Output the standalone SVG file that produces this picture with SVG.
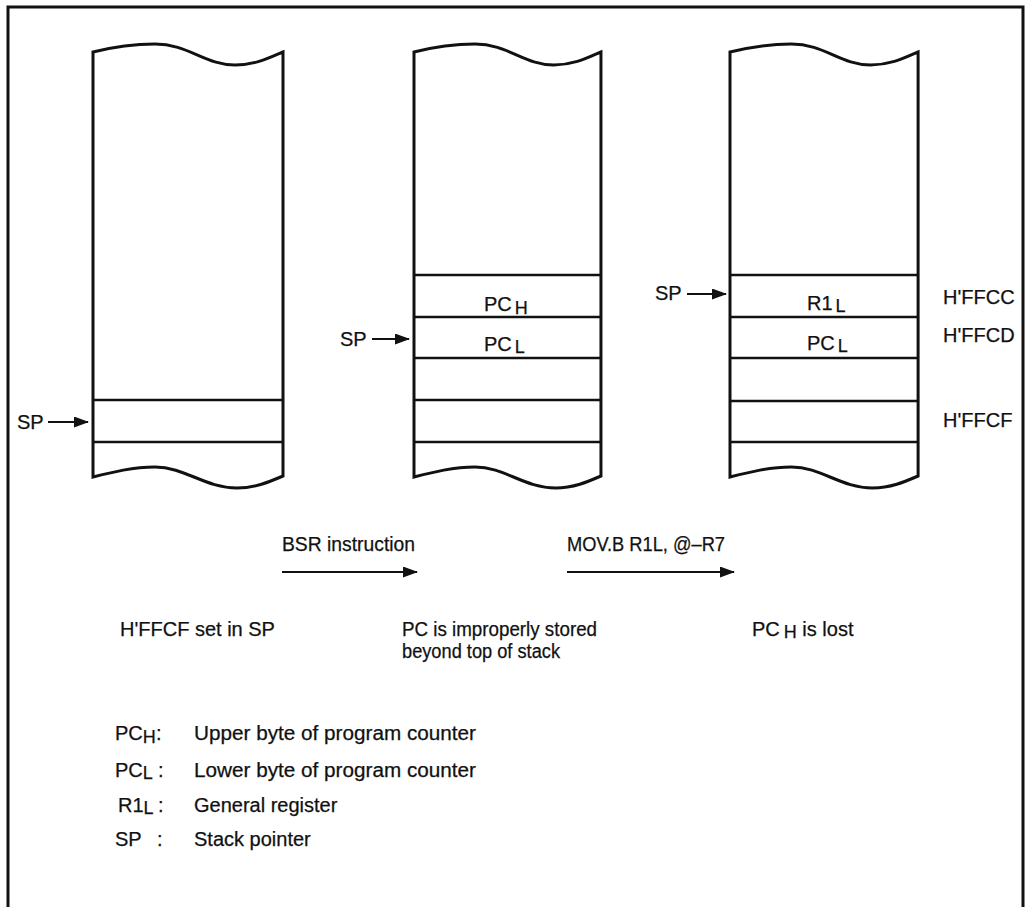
<svg xmlns="http://www.w3.org/2000/svg" width="1030" height="907" viewBox="0 0 1030 907">
<style>
  text { font-family: "Liberation Sans", Arial, sans-serif; font-size: 20px; fill: #111; stroke: #111; stroke-width: 0.25; }
  .sub { font-size: 18px; }
  .col { fill: #fff; stroke: #111; stroke-width: 3; stroke-linejoin: miter; }
  .row { stroke: #111; stroke-width: 2.4; fill: none; }
  .arr { stroke: #111; stroke-width: 2; fill: none; }
  .frame { fill: #fff; stroke: #111; stroke-width: 3; }
</style>
<defs>
  <marker id="ah" markerWidth="15" markerHeight="11" refX="14" refY="5.5" orient="auto" markerUnits="userSpaceOnUse">
    <path d="M0,0 L15,5.5 L0,11 Z" fill="#111"/>
  </marker>
  <path id="colshape" d="M0,52 C20,47 40,44 62,44 C95,44 112,65 142,65 C162,65 176,58 190,52 L190,476 C176,482 162,488 144,488 C112,488 92,467 62,467 C40,467 20,472 0,477 Z"/>
</defs>
<rect class="frame" x="8" y="7" width="1015" height="910"/>

<g id="stack1">
  <use href="#colshape" class="col" transform="translate(93,0)"/>
  <line class="row" x1="93" y1="400" x2="283" y2="400"/>
  <line class="row" x1="93" y1="442" x2="283" y2="442"/>
</g>

<g id="stack2">
  <path class="col" transform="translate(414,0) scale(0.984,1)" vector-effect="non-scaling-stroke" d="M0,52 C20,47 40,44 62,44 C95,44 112,65 142,65 C162,65 176,58 190,52 L190,476 C176,482 162,488 144,488 C112,488 92,467 62,467 C40,467 20,472 0,477 Z"/>
  <line class="row" x1="414" y1="275" x2="601" y2="275"/>
  <line class="row" x1="414" y1="317" x2="601" y2="317"/>
  <line class="row" x1="414" y1="358" x2="601" y2="358"/>
  <line class="row" x1="414" y1="400" x2="601" y2="400"/>
  <line class="row" x1="414" y1="442" x2="601" y2="442"/>
  <text x="484" y="311">PC<tspan class="sub" dx="3" dy="3">H</tspan></text>
  <text x="484" y="351">PC<tspan class="sub" dx="3" dy="2">L</tspan></text>
</g>

<g id="stack3">
  <path class="col" transform="translate(730,0) scale(0.99,1)" vector-effect="non-scaling-stroke" d="M0,52 C20,47 40,44 62,44 C95,44 112,65 142,65 C162,65 176,58 190,52 L190,476 C176,482 162,488 144,488 C112,488 92,467 62,467 C40,467 20,472 0,477 Z"/>
  <line class="row" x1="730" y1="275" x2="918" y2="275"/>
  <line class="row" x1="730" y1="317" x2="918" y2="317"/>
  <line class="row" x1="730" y1="358" x2="918" y2="358"/>
  <line class="row" x1="730" y1="401" x2="918" y2="401"/>
  <line class="row" x1="730" y1="442" x2="918" y2="442"/>
  <text x="807" y="310">R1<tspan class="sub" dx="3" dy="2">L</tspan></text>
  <text x="807" y="350">PC<tspan class="sub" dx="3" dy="2">L</tspan></text>
</g>

<g id="addresses">
  <text x="943" y="304">H'FFCC</text>
  <text x="943" y="342">H'FFCD</text>
  <text x="943" y="427">H'FFCF</text>
</g>

<g id="connectors">
  <line class="arr" x1="48" y1="422" x2="88" y2="422" marker-end="url(#ah)"/>
  <line class="arr" x1="372" y1="339" x2="409" y2="339" marker-end="url(#ah)"/>
  <line class="arr" x1="687" y1="294" x2="726" y2="294" marker-end="url(#ah)"/>
  <line class="arr" x1="282" y1="572" x2="417" y2="572" marker-end="url(#ah)"/>
  <line class="arr" x1="567" y1="572" x2="734" y2="572" marker-end="url(#ah)"/>
</g>

<g id="sp-labels">
  <text x="17" y="429">SP</text>
  <text x="340" y="346">SP</text>
  <text x="655" y="300">SP</text>
</g>

<g id="captions">
  <text x="282" y="551" textLength="133" lengthAdjust="spacingAndGlyphs">BSR instruction</text>
  <text x="567" y="551" textLength="158" lengthAdjust="spacingAndGlyphs">MOV.B R1L, @–R7</text>
  <text x="120" y="636">H'FFCF set in SP</text>
  <text x="402" y="636" textLength="195" lengthAdjust="spacingAndGlyphs">PC is improperly stored</text>
  <text x="402" y="658" textLength="158" lengthAdjust="spacingAndGlyphs">beyond top of stack</text>
  <text x="752" y="636">PC<tspan class="sub" dx="4" dy="2">H</tspan><tspan dy="-2"> is lost</tspan></text>
</g>

<g id="legend">
  <text x="115" y="740">PC<tspan class="sub" dy="3">H</tspan></text>
  <text x="156" y="740">:</text>
  <text x="194" y="740" textLength="282" lengthAdjust="spacingAndGlyphs">Upper byte of program counter</text>
  <text x="115" y="777">PC<tspan class="sub" dy="2">L</tspan></text>
  <text x="158" y="777">:</text>
  <text x="194" y="777" textLength="282" lengthAdjust="spacingAndGlyphs">Lower byte of program counter</text>
  <text x="118" y="812">R1<tspan class="sub" dy="2">L</tspan></text>
  <text x="158" y="812">:</text>
  <text x="194" y="812">General register</text>
  <text x="115" y="846">SP</text>
  <text x="157" y="846">:</text>
  <text x="194" y="846">Stack pointer</text>
</g>
</svg>
